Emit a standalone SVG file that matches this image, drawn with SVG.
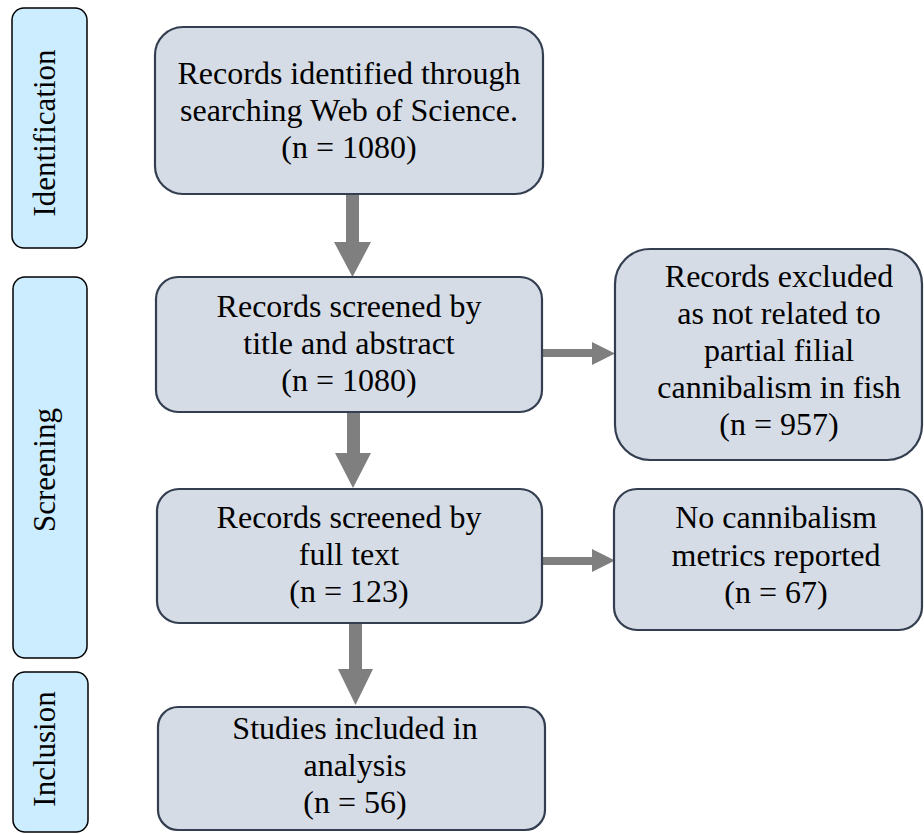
<svg xmlns="http://www.w3.org/2000/svg" width="924" height="834" viewBox="0 0 924 834">
<style>
.stage{fill:#CCECFF;stroke:#000;stroke-width:1.5}
.box{fill:#D6DCE5;stroke:#333F50;stroke-width:2.2}
.arr{fill:#7F7F7F}
.t{font-family:'Liberation Serif','Times New Roman','DejaVu Serif',serif;font-size:32px;fill:#000;text-anchor:middle}
.s{font-size:31px}
</style>
<rect width="924" height="834" fill="#fff"/>
<g id="stage-identification">
<rect class="stage" x="12" y="8" width="75" height="240" rx="12"/>
<text class="t s" transform="translate(55,133) rotate(-90)">Identification</text>
</g>
<g id="stage-screening">
<rect class="stage" x="13" y="277" width="74" height="381" rx="12"/>
<text class="t s" transform="translate(55,470) rotate(-90)">Screening</text>
</g>
<g id="stage-inclusion">
<rect class="stage" x="13" y="672" width="75" height="160" rx="12"/>
<text class="t s" transform="translate(55,749) rotate(-90)">Inclusion</text>
</g>
<g id="connectors">
<polygon class="arr" points="346,194 359,194 359,242 371,242 352.5,277 334,242 346,242"/>
<polygon class="arr" points="347,412 360,412 360,453 371,453 353,488 335,453 347,453"/>
<polygon class="arr" points="349,623 362,623 362,669 373,669 355.5,705 338,669 349,669"/>
<polygon class="arr" points="542,349 592,349 592,342 615,353.5 592,365 592,357 542,357"/>
<polygon class="arr" points="542,557 592,557 592,549 615,560.5 592,572 592,565 542,565"/>
</g>
<g id="node-identified" class="t">
<rect class="box" x="155" y="27" width="388" height="167" rx="28"/>
<text x="349" y="84">Records identified through</text>
<text x="349" y="121">searching Web of Science.</text>
<text x="349" y="158">(n = 1080)</text>
</g>
<g id="node-screened-title" class="t">
<rect class="box" x="156" y="277" width="386" height="135" rx="22"/>
<text x="349" y="317">Records screened by</text>
<text x="349" y="354">title and abstract</text>
<text x="349" y="391">(n = 1080)</text>
</g>
<g id="node-screened-full" class="t">
<rect class="box" x="157" y="489" width="385" height="134" rx="22"/>
<text x="349" y="528">Records screened by</text>
<text x="349" y="565">full text</text>
<text x="349" y="602">(n = 123)</text>
</g>
<g id="node-included" class="t">
<rect class="box" x="158" y="707" width="387" height="123" rx="20"/>
<text x="355" y="739">Studies included in</text>
<text x="355" y="776">analysis</text>
<text x="355" y="813">(n = 56)</text>
</g>
<g id="node-excluded-1" class="t">
<rect class="box" x="615" y="249" width="307" height="211" rx="35"/>
<text x="779" y="287">Records excluded</text>
<text x="779" y="324">as not related to</text>
<text x="779" y="361">partial filial</text>
<text x="779" y="398">cannibalism in fish</text>
<text x="779" y="435">(n = 957)</text>
</g>
<g id="node-excluded-2" class="t">
<rect class="box" x="614" y="489" width="308" height="141" rx="23"/>
<text x="776" y="528">No cannibalism</text>
<text x="776" y="566">metrics reported</text>
<text x="776" y="603">(n = 67)</text>
</g>
</svg>
